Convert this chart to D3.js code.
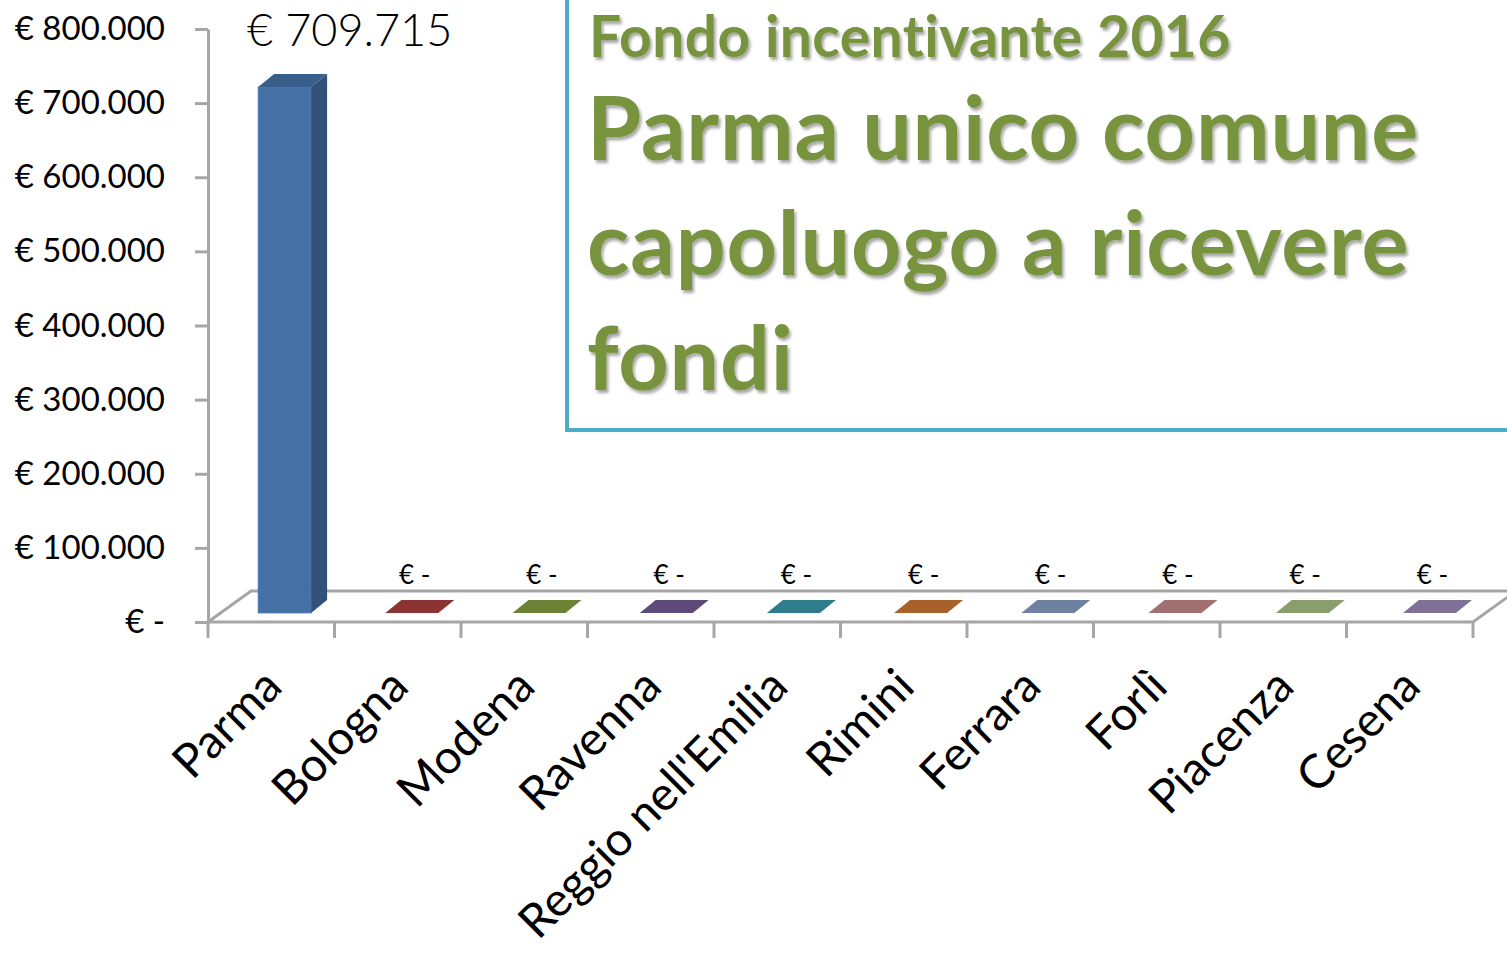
<!DOCTYPE html>
<html>
<head>
<meta charset="utf-8">
<script src="https://cdn.jsdelivr.net/npm/d3@7"></script>
<style>
  body { margin: 0; background: #fff; }
  svg { display: block; font-family: Lato, "Noto Sans", sans-serif; font-variant-ligatures: none; }
</style>
</head>
<body>
<svg width="1507" height="955"></svg>
<script>
var categories = ["Parma", "Bologna", "Modena", "Ravenna", "Reggio nell'Emilia", "Rimini", "Ferrara", "Forlì", "Piacenza", "Cesena"];
var values = [709715, 0, 0, 0, 0, 0, 0, 0, 0, 0];
var yTicks = [0, 100000, 200000, 300000, 400000, 500000, 600000, 700000, 800000];
var barColors = ["#4470a6", "#8c3434", "#6d8234", "#5d4a7a", "#2f7d8c", "#a9612c", "#6f81a1", "#a17070", "#8a9d6d", "#7e7096"];
var subtitle = "Fondo incentivante 2016";
var titleLines = ["Parma unico comune", "capoluogo a ricevere", "fondi"];

var svg = d3.select("svg"),
    width = +svg.attr("width"),
    height = +svg.attr("height");

var locale = d3.formatLocale({decimal: ",", thousands: ".", grouping: [3], currency: ["€ ", ""]});
var fmtNum = locale.format(",.0f");
function euro(d) { return d === 0 ? "€ -" : "€ " + fmtNum(d); }

var x = d3.scaleBand()
    .domain(categories)
    .range([208, 1473]);

// bars sit a bit back in the 3d floor, so they get their own (shifted) band scale
var xb = d3.scaleBand()
    .domain(categories)
    .range([221, 1493]);

var y = d3.scaleLinear()
    .domain([0, 800000])
    .range([622, 29]);

var floorDx = 43, floorDy = -31;   // depth of the floor
var frontDy = -9;                  // bar front plane above axis plane
var sideDx = 16, sideDy = -13;     // bar depth
var barW = 53;

var color = d3.scaleOrdinal().domain(categories).range(barColors);

var defs = svg.append("defs");
var shadow = defs.append("filter").attr("id", "shadow")
    .attr("x", "-5%").attr("y", "-5%").attr("width", "115%").attr("height", "130%");
shadow.append("feDropShadow")
    .attr("dx", 2).attr("dy", 3).attr("stdDeviation", 1.8)
    .attr("flood-color", "#000").attr("flood-opacity", 0.35);

// title box
var box = svg.append("g");
box.append("rect")
    .attr("x", 567)
    .attr("y", -10)
    .attr("width", 1100)
    .attr("height", 440)
    .attr("fill", "#fff")
    .attr("stroke", "#4bacc6")
    .attr("stroke-width", 4);

box.append("text")
    .attr("x", 589)
    .attr("y", 57)
    .attr("fill", "#77933c")
    .attr("font-weight", 700)
    .attr("font-size", 57)
    .attr("letter-spacing", 0.4)
    .attr("filter", "url(#shadow)")
    .text(subtitle);

box.selectAll(".tline")
  .data(titleLines)
  .enter().append("text")
    .attr("class", "tline")
    .attr("x", 587)
    .attr("y", function(d, i) { return 160 + i * 115; })
    .attr("fill", "#77933c")
    .attr("font-weight", 700)
    .attr("font-size", 88)
    .attr("letter-spacing", 0.8)
    .attr("filter", "url(#shadow)")
    .text(function(d) { return d; });

// floor
var floor = svg.append("g")
    .attr("fill", "none")
    .attr("stroke", "#a6a6a6")
    .attr("stroke-width", 3);

floor.append("path")
    .attr("d", "M" + x.range()[0] + "," + y(0) +
               "L" + (x.range()[0] + floorDx) + "," + (y(0) + floorDy) +
               "L" + (x.range()[1] + floorDx) + "," + (y(0) + floorDy) +
               "L" + x.range()[1] + "," + y(0) + "Z");

// x ticks at band edges
var edges = categories.map(function(c) { return x(c); }).concat([x.range()[1]]);
floor.selectAll(".xtick")
  .data(edges)
  .enter().append("line")
    .attr("x1", function(d) { return d; })
    .attr("x2", function(d) { return d; })
    .attr("y1", y(0))
    .attr("y2", y(0) + 16);

// bars
var bars = svg.append("g").selectAll("g")
  .data(categories)
  .enter().append("g");

function pts(arr) { return arr.map(function(p) { return p.join(","); }).join(" "); }

bars.each(function(c, i) {
  var g = d3.select(this),
      v = values[i],
      fx = xb(c) + xb.bandwidth() / 2 - barW / 2,
      bottom = y(0) + frontDy,
      top = y(v) + frontDy,
      col = d3.rgb(color(c));
  if (v > 0) {
    g.append("rect")
        .attr("x", fx).attr("y", top)
        .attr("width", barW).attr("height", bottom - top)
        .attr("fill", col)
        .attr("stroke", col.brighter(0.3)).attr("stroke-width", 0.8);
    g.append("polygon")
        .attr("points", pts([[fx + barW, top], [fx + barW + sideDx, top + sideDy], [fx + barW + sideDx, bottom + sideDy], [fx + barW, bottom]]))
        .attr("fill", col.darker(0.9));
  }
  g.append("polygon")
      .attr("points", pts([[fx, top], [fx + sideDx, top + sideDy], [fx + barW + sideDx, top + sideDy], [fx + barW, top]]))
      .attr("fill", v > 0 ? col.darker(0.5) : col);
});

// value labels
svg.append("g").selectAll("text")
  .data(categories)
  .enter().append("text")
    .attr("x", function(c, i) { return xb(c) + xb.bandwidth() / 2 + (values[i] > 0 ? 65 : 3); })
    .attr("y", function(c, i) { return y(values[i]) + (values[i] > 0 ? -50 : -38); })
    .attr("text-anchor", "middle")
    .attr("font-size", function(c, i) { return values[i] > 0 ? 45 : 26; })
    .attr("font-weight", function(c, i) { return values[i] > 0 ? 300 : 400; })
    .attr("fill", "#000")
    .text(function(c, i) { return euro(values[i]); });

// y axis
var yAxis = svg.append("g")
    .attr("transform", "translate(" + x.range()[0] + ",0)")
    .call(d3.axisLeft(y).tickValues(yTicks).tickSize(13).tickSizeOuter(0).tickPadding(30).tickFormat(euro));

yAxis.select(".domain").attr("stroke", "#a6a6a6").attr("stroke-width", 3);
yAxis.selectAll(".tick line").attr("stroke", "#a6a6a6").attr("stroke-width", 3);
yAxis.selectAll(".tick text")
    .attr("font-family", "Lato, sans-serif")
    .attr("font-size", 33)
    .attr("fill", "#000");

// category labels
svg.append("g").selectAll("text")
  .data(categories)
  .enter().append("text")
    .attr("transform", function(c) {
      return "translate(" + (x(c) + x.bandwidth() / 2 + 13) + "," + 689 + ") rotate(-45)";
    })
    .attr("text-anchor", "end")
    .attr("font-size", 47)
    .attr("fill", "#000")
    .text(function(c) { return c; });
</script>
</body>
</html>
